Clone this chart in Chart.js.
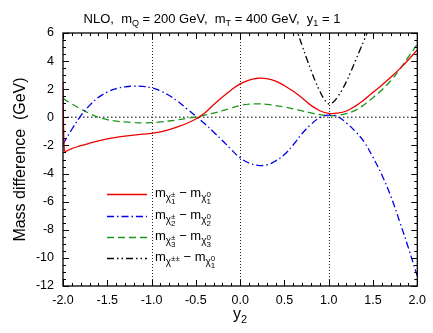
<!DOCTYPE html>
<html>
<head>
<meta charset="utf-8">
<script src="https://cdn.jsdelivr.net/npm/chart.js@4"></script>
<style>
  body { margin: 0; background: #fff; }
  #wrap { width: 433px; height: 333px; }
</style>
</head>
<body>
<div id="wrap"><canvas id="chart" width="433" height="333"></canvas></div>
<script>
// values
const xGrid = [-2.0,-1.9,-1.8,-1.7,-1.6,-1.5,-1.4,-1.3,-1.2,-1.1,-1.0,-0.9,-0.8,-0.7,-0.6,-0.5,-0.4,-0.3,-0.2,-0.1,
               0.0,0.1,0.2,0.3,0.4,0.5,0.6,0.7,0.8,0.9,1.0,1.1,1.2,1.3,1.4,1.5,1.6,1.7,1.8,1.9,2.0];

// chi1 curve has a spike right at the left edge, so it gets its own x list
const redX = [-2.0,-1.985,-1.9,-1.8,-1.7,-1.6,-1.5,-1.4,-1.3,-1.2,-1.1,-1.0,-0.9,-0.8,-0.7,-0.6,-0.5,-0.4,-0.3,-0.2,-0.1,
              0.0,0.1,0.2,0.3,0.4,0.5,0.6,0.7,0.8,0.9,1.0,1.1,1.2,1.3,1.4,1.5,1.6,1.7,1.8,1.9,2.0];
const redY = [2.5,-2.35,-2.22,-2.02,-1.84,-1.67,-1.53,-1.42,-1.34,-1.27,-1.2,-1.14,-1.03,-0.87,-0.66,-0.42,-0.12,0.3,0.9,1.45,1.95,
              2.38,2.65,2.78,2.75,2.58,2.25,1.85,1.38,0.85,0.47,0.28,0.3,0.45,0.8,1.25,1.78,2.3,2.85,3.45,4.1,4.8];

const blueY = [-1.9,-0.85,0.1,0.85,1.42,1.8,2.04,2.17,2.22,2.2,2.1,1.88,1.55,1.12,0.6,0.08,-0.45,-1.05,-1.65,-2.3,
               -2.88,-3.25,-3.42,-3.38,-3.1,-2.65,-1.95,-1.15,-0.5,-0.03,0.15,0.05,-0.4,-1.0,-1.75,-2.85,-4.1,-5.6,-7.4,-9.3,-11.3];

const greenY = [1.35,0.95,0.6,0.27,0.0,-0.17,-0.27,-0.33,-0.37,-0.39,-0.38,-0.33,-0.26,-0.17,-0.07,0.03,0.16,0.3,0.47,0.66,
                0.84,0.94,0.96,0.92,0.84,0.73,0.6,0.46,0.31,0.19,0.13,0.14,0.26,0.5,0.9,1.4,1.95,2.6,3.4,4.3,5.2];

const blackX = [0.6,0.65,0.7,0.75,0.8,0.85,0.9,0.95,1.0,1.05,1.1,1.15,1.2,1.25,1.3,1.35,1.4,1.45,1.5];
const blackY = [6.9,6.0,5.1,4.2,3.35,2.55,1.85,1.28,0.95,1.08,1.45,1.95,2.55,3.25,4.0,4.75,5.5,6.3,7.1];

const FONT = '"Liberation Sans", Arial, sans-serif';

function pts(xs, ys) {
  return xs.map((x, i) => ({ x: x, y: ys[i] }));
}

// draws a run of text pieces with sub/superscripts, returns the end x
function rich(ctx, x, y, parts, draw) {
  parts.forEach(p => {
    ctx.font = p.s + 'px ' + FONT;
    if (p.t !== undefined) {
      if (draw) ctx.fillText(p.t, x, y + (p.dy || 0));
      x += ctx.measureText(p.t).width;
    } else {
      if (draw) {
        ctx.fillText(p.sup, x, y + p.supDy);
        ctx.fillText(p.sub, x, y + p.subDy);
      }
      x += Math.max(ctx.measureText(p.sup).width, ctx.measureText(p.sub).width);
    }
  });
  return x;
}

function chiLabel(a, b, c) {
  // m_{chi_a^b} - m_{chi_c^0}
  return [
    { t: 'm', s: 13 }, { t: 'χ', s: 10, dy: 4 }, { sup: b, sub: a, s: 8, supDy: -0.5, subDy: 7 },
    { t: ' − m', s: 13 }, { t: 'χ', s: 10, dy: 4 }, { sup: '0', sub: c, s: 8, supDy: -0.5, subDy: 7 }
  ];
}

const legendRows = [
  chiLabel('1', '±', '1'),
  chiLabel('2', '±', '2'),
  chiLabel('3', '±', '3'),
  chiLabel('', '±±', '1')
];

const titleParts = [
  { t: 'NLO,  m', s: 13 }, { t: 'Q', s: 9, dy: 3 },
  { t: ' = 200 GeV,  m', s: 13 }, { t: 'T', s: 9, dy: 3 },
  { t: ' = 400 GeV,  y', s: 13 }, { t: '1', s: 9, dy: 3 },
  { t: ' = 1', s: 13 }
];

const framePlugin = {
  id: 'frame',
  beforeDatasetsDraw(chart) {
    const { ctx, chartArea: { left, right, top, bottom }, scales: { x, y } } = chart;
    ctx.save();
    ctx.strokeStyle = '#222';
    ctx.lineWidth = 1;
    ctx.setLineDash([1, 2]);
    [-1, 0, 1].forEach(v => {
      const px = Math.round(x.getPixelForValue(v)) + 0.5;
      ctx.beginPath(); ctx.moveTo(px, top); ctx.lineTo(px, bottom); ctx.stroke();
    });
    ctx.strokeStyle = '#555';
    ctx.lineWidth = 1.5;
    ctx.setLineDash([1.5, 2.5]);
    const py = y.getPixelForValue(0);
    ctx.beginPath(); ctx.moveTo(left, py); ctx.lineTo(right, py); ctx.stroke();
    ctx.restore();
  },
  afterDatasetsDraw(chart) {
    const { ctx, chartArea: { left, right, top, bottom }, scales: { x, y } } = chart;
    ctx.save();
    ctx.strokeStyle = '#000';
    ctx.lineWidth = 1;
    ctx.beginPath();
    for (let i = -20; i <= 20; i++) {
      const px = Math.round(x.getPixelForValue(i / 10)) + 0.5;
      const len = i % 5 === 0 ? 6 : 3;
      ctx.moveTo(px, bottom); ctx.lineTo(px, bottom - len);
      ctx.moveTo(px, top); ctx.lineTo(px, top + len);
    }
    for (let i = -24; i <= 12; i++) {
      const py = Math.round(y.getPixelForValue(i / 2)) + 0.5;
      const len = i % 4 === 0 ? 6 : 3;
      ctx.moveTo(left, py); ctx.lineTo(left + len, py);
      ctx.moveTo(right, py); ctx.lineTo(right - len, py);
    }
    ctx.stroke();
    ctx.lineWidth = 1.3;
    ctx.strokeRect(left, top, right - left, bottom - top);
    ctx.restore();
  },
  afterDraw(chart) {
    const { ctx, chartArea: { left, right, top, bottom } } = chart;
    ctx.save();
    ctx.fillStyle = '#000';
    ctx.textBaseline = 'alphabetic';
    ctx.textAlign = 'left';

    // title
    const tw = rich(ctx, 0, 0, titleParts, false);
    rich(ctx, 212 - tw / 2, 23, titleParts, true);

    // x axis title y_2
    const xt = [{ t: 'y', s: 16 }, { t: '2', s: 11, dy: 4 }];
    const xw = rich(ctx, 0, 0, xt, false);
    rich(ctx, (left + right) / 2 - xw / 2, 319, xt, true);

    // y axis title
    ctx.translate(25, (top + bottom) / 2);
    ctx.rotate(-Math.PI / 2);
    ctx.font = '16px ' + FONT;
    ctx.textAlign = 'center';
    ctx.fillText('Mass difference  (GeV)', 0, 0);
    ctx.restore();

    // legend
    ctx.save();
    ctx.fillStyle = '#000';
    ctx.textAlign = 'left';
    ctx.textBaseline = 'alphabetic';
    const rowY = [194, 216, 237, 258];
    chart.data.datasets.forEach((ds, i) => {
      ctx.strokeStyle = ds.borderColor;
      ctx.lineWidth = ds.borderWidth;
      ctx.setLineDash(ds.borderDash || []);
      ctx.beginPath();
      ctx.moveTo(107, rowY[i] + 0.5);
      ctx.lineTo(147, rowY[i] + 0.5);
      ctx.stroke();
      rich(ctx, 155, rowY[i] + 3, legendRows[i], true);
    });
    ctx.restore();
  }
};

const lineStyle = {
  pointRadius: 0,
  borderWidth: 1.3,
  fill: false,
  tension: 0.4
};

new Chart(document.getElementById('chart').getContext('2d'), {
  type: 'line',
  data: {
    datasets: [
      Object.assign({ label: 'chi1', data: pts(redX, redY), borderColor: '#ee0000' }, lineStyle),
      Object.assign({ label: 'chi2', data: pts(xGrid, blueY), borderColor: '#0000ee', borderDash: [7, 3, 1.5, 3] }, lineStyle),
      Object.assign({ label: 'chi3', data: pts(xGrid, greenY), borderColor: '#1c961c', borderDash: [7, 4] }, lineStyle),
      Object.assign({ label: 'chi++', data: pts(blackX, blackY), borderColor: '#000000', borderDash: [7, 3, 1.5, 3, 1.5, 3] }, lineStyle)
    ]
  },
  options: {
    responsive: false,
    devicePixelRatio: 1,
    animation: false,
    layout: { padding: { left: 0, right: 12, top: 33, bottom: 0 } },
    plugins: { legend: { display: false }, tooltip: { enabled: false } },
    scales: {
      x: {
        type: 'linear', min: -2, max: 2,
        grid: { display: false, drawTicks: false },
        border: { display: false },
        ticks: {
          stepSize: 0.5, autoSkip: false, maxRotation: 0, padding: 7, color: '#000',
          font: { size: 12.5, family: FONT },
          callback: v => v.toFixed(1)
        },
        afterFit(s) { s.height = 47; }
      },
      y: {
        min: -12, max: 6,
        grid: { display: false, drawTicks: false },
        border: { display: false },
        ticks: {
          stepSize: 2, padding: 9, color: '#000',
          font: { size: 12.5, family: FONT }
        },
        afterFit(s) { s.width = 63; }
      }
    }
  },
  plugins: [framePlugin]
});
</script>
</body>
</html>
